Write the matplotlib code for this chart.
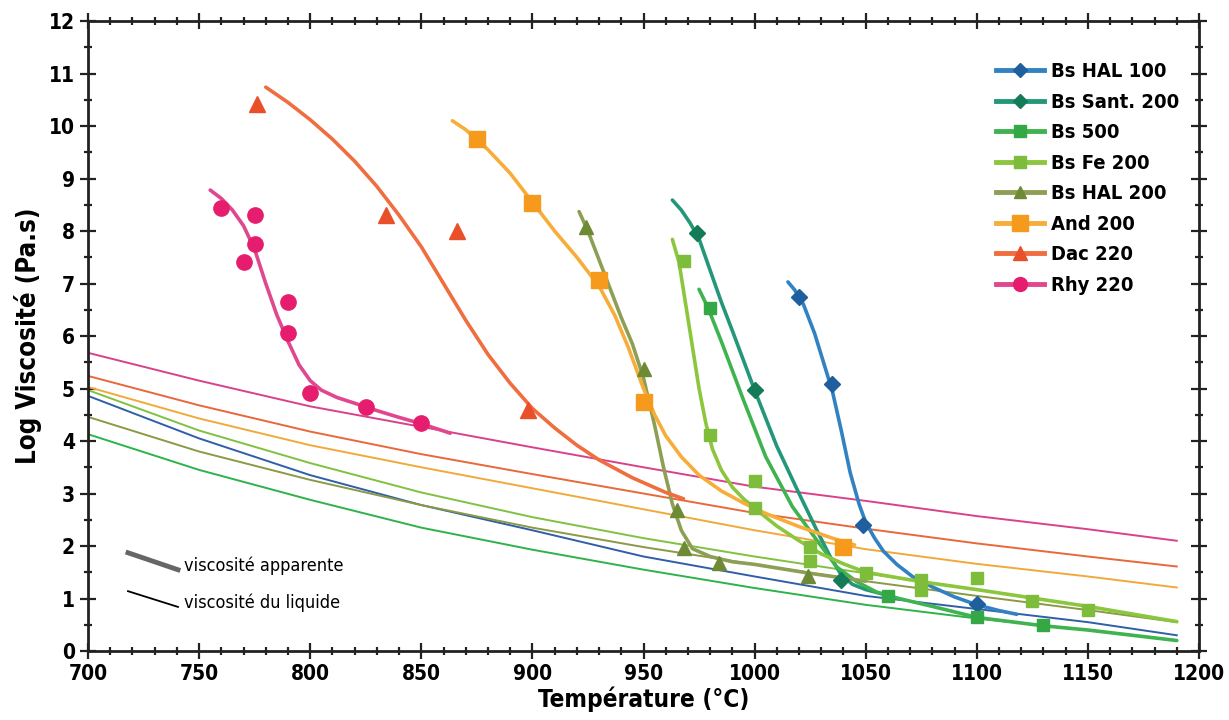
import matplotlib
matplotlib.use('Agg')
import matplotlib.pyplot as plt
from matplotlib.lines import Line2D
from matplotlib.ticker import MultipleLocator

plt.rcParams['font.family'] = ['DejaVu Sans']
plt.rcParams['font.stretch'] = 'condensed'
plt.rcParams['font.weight'] = 'bold'

# viscosite du liquide (thin lines), common temperature grid
liq_t = [700, 750, 800, 850, 900, 950, 1000, 1050, 1100, 1150, 1190]
liq_rhy = [5.68, 5.15, 4.66, 4.27, 3.88, 3.5, 3.13, 2.86, 2.57, 2.32, 2.1]
liq_dac = [5.24, 4.68, 4.18, 3.75, 3.37, 3.0, 2.63, 2.33, 2.05, 1.8, 1.61]
liq_and = [5.03, 4.43, 3.92, 3.5, 3.1, 2.7, 2.3, 1.94, 1.66, 1.42, 1.21]
liq_fe = [4.97, 4.2, 3.58, 3.02, 2.55, 2.15, 1.8, 1.48, 1.17, 0.85, 0.56]
liq_hal100 = [4.86, 4.05, 3.35, 2.78, 2.3, 1.8, 1.42, 1.05, 0.8, 0.55, 0.3]
liq_hal200 = [4.46, 3.8, 3.26, 2.78, 2.35, 1.98, 1.65, 1.33, 1.05, 0.78, 0.55]
liq_b500 = [4.13, 3.45, 2.88, 2.35, 1.93, 1.55, 1.2, 0.88, 0.62, 0.4, 0.2]

# viscosite apparente (thick curves)
hal100_ct = [1015, 1018, 1022, 1027, 1031, 1035, 1039, 1043, 1047, 1050, 1054, 1058,
             1064, 1071, 1080, 1090, 1100, 1110, 1118]
hal100_cv = [7.03, 6.88, 6.6, 6.05, 5.5, 4.95, 4.2, 3.4, 2.8, 2.45, 2.15, 1.9,
             1.65, 1.42, 1.22, 1.03, 0.88, 0.77, 0.7]
sant_ct = [963, 967, 971, 975, 980, 985, 990, 1000, 1010, 1020, 1028, 1034, 1039, 1044, 1050, 1059]
sant_cv = [8.59, 8.4, 8.15, 7.85, 7.25, 6.65, 6.1, 4.97, 3.9, 3.0, 2.3, 1.8, 1.45, 1.27, 1.17, 1.07]
b500_ct = [975, 979, 985, 995, 1005, 1017, 1028, 1037, 1046, 1055, 1065, 1080, 1100, 1130, 1150, 1190]
b500_cv = [6.89, 6.54, 5.9, 4.78, 3.7, 2.75, 2.11, 1.6, 1.32, 1.12, 1.0, 0.85, 0.64, 0.48, 0.4, 0.2]
fe_ct = [963, 966, 969, 972, 975, 978, 981, 985, 990, 995, 1000, 1010, 1020, 1030, 1040,
         1050, 1075, 1100, 1150, 1190]
fe_cv = [7.84, 7.4, 6.6, 5.8, 5.0, 4.35, 3.85, 3.45, 3.12, 2.9, 2.72, 2.38, 2.1, 1.85, 1.66,
         1.5, 1.32, 1.17, 0.85, 0.56]
hal200_ct = [921, 925, 930, 935, 940, 945, 950, 955, 959, 963, 967, 972, 980, 990, 1000, 1025, 1050]
hal200_cv = [8.37, 8.0, 7.45, 6.9, 6.35, 5.85, 5.2, 4.3, 3.5, 2.8, 2.3, 1.95, 1.8, 1.7, 1.65, 1.48, 1.33]
and_ct = [864, 870, 880, 890, 900, 910, 920, 930, 937, 943, 950, 955, 960, 967, 975, 985,
          995, 1005, 1020, 1035, 1045]
and_cv = [10.1, 9.93, 9.55, 9.1, 8.55, 8.0, 7.5, 6.95, 6.4, 5.8, 5.0, 4.5, 4.1, 3.7, 3.35, 3.05,
          2.82, 2.62, 2.37, 2.15, 2.02]
dac_ct = [780, 790, 800, 810, 820, 830, 840, 850, 860, 870, 880, 890, 900, 910, 920, 930,
          945, 960, 968]
dac_cv = [10.74, 10.45, 10.12, 9.75, 9.33, 8.85, 8.3, 7.7, 7.0, 6.3, 5.65, 5.1, 4.62, 4.25,
          3.92, 3.64, 3.3, 3.02, 2.9]
rhy_ct = [755, 760, 765, 770, 775, 780, 785, 790, 795, 800, 805, 812, 820, 830, 840, 850, 863]
rhy_cv = [8.78, 8.62, 8.4, 8.1, 7.65, 7.0, 6.4, 5.9, 5.45, 5.15, 4.97, 4.83, 4.72, 4.58,
          4.45, 4.33, 4.15]

# measured points
hal100_t = [1020, 1035, 1049, 1100]
hal100_v = [6.74, 5.08, 2.4, 0.9]
sant_t = [974, 1000, 1039]
sant_v = [7.97, 4.97, 1.35]
b500_t = [980, 1060, 1100, 1130]
b500_v = [6.54, 1.05, 0.65, 0.5]
fe_t = [968, 980, 1000, 1000, 1025, 1025, 1050, 1075, 1075, 1100, 1125, 1150]
fe_v = [7.42, 4.11, 3.24, 2.72, 1.99, 1.72, 1.48, 1.35, 1.16, 1.4, 0.95, 0.78]
hal200_t = [924, 950, 965, 968, 984, 1024]
hal200_v = [8.08, 5.38, 2.69, 1.96, 1.67, 1.42]
and_t = [875, 900, 930, 950, 1040]
and_v = [9.75, 8.53, 7.07, 4.75, 1.99]
dac_t = [776, 834, 866, 898]
dac_v = [10.42, 8.3, 8.0, 4.59]
rhy_t = [760, 775, 770, 775, 790, 790, 800, 825, 850]
rhy_v = [8.44, 8.3, 7.41, 7.75, 6.65, 6.06, 4.91, 4.65, 4.34]

names = ['Bs HAL 100', 'Bs Sant. 200', 'Bs 500', 'Bs Fe 200', 'Bs HAL 200',
         'And 200', 'Dac 220', 'Rhy 220']
line_colors = ['#3282c2', '#24977a', '#3fb34f', '#8cc63f', '#8d9f55',
               '#f7ad3a', '#ef6d3f', '#e0478f']
mark_colors = ['#1f5f9e', '#157a57', '#33a845', '#7dbd3b', '#6f8a34',
               '#f59a1c', '#e9502a', '#e61d6e']
markers = ['D', 'D', 's', 's', '^', 's', '^', 'o']
msizes = [8, 8, 9, 9, 10, 12, 11, 11]

curves = [(hal100_ct, hal100_cv), (sant_ct, sant_cv), (b500_ct, b500_cv), (fe_ct, fe_cv),
          (hal200_ct, hal200_cv), (and_ct, and_cv), (dac_ct, dac_cv), (rhy_ct, rhy_cv)]
points = [(hal100_t, hal100_v), (sant_t, sant_v), (b500_t, b500_v), (fe_t, fe_v),
          (hal200_t, hal200_v), (and_t, and_v), (dac_t, dac_v), (rhy_t, rhy_v)]
liquids = [(liq_rhy, '#d8428a'), (liq_dac, '#e8683a'), (liq_and, '#f2a93b'),
           (liq_fe, '#7fc241'), (liq_hal100, '#2f5fa8'), (liq_hal200, '#8a9a45'),
           (liq_b500, '#2db34a')]

fig = plt.figure(figsize=(12.29, 7.2), dpi=100)
ax = fig.add_axes([0.0716, 0.0958, 0.904, 0.875])

for vals, c in liquids:
    ax.plot(liq_t, vals, color=c, lw=1.4, zorder=2)

for i in range(len(names)):
    ct, cv = curves[i]
    ax.plot(ct, cv, color=line_colors[i], lw=2.6, solid_capstyle='round',
            solid_joinstyle='round', zorder=3)
    pt, pv = points[i]
    ax.plot(pt, pv, ls='none', marker=markers[i], ms=msizes[i], color=mark_colors[i],
            mec=mark_colors[i], zorder=4)

handles = [Line2D([], [], color=line_colors[i], lw=3.5, marker=markers[i],
                  ms=msizes[i] - 1, mfc=mark_colors[i], mec=mark_colors[i])
           for i in range(len(names))]
leg = ax.legend(handles, names, loc='upper left', bbox_to_anchor=(0.81, 0.947),
                frameon=False, fontsize=14.5, handlelength=2.4, labelspacing=0.57,
                handletextpad=0.35, borderaxespad=0)

# key for line thickness
ax.plot([0.036, 0.081], [0.156, 0.129], transform=ax.transAxes, color='#666666', lw=3.5)
ax.plot([0.036, 0.081], [0.095, 0.07], transform=ax.transAxes, color='black', lw=1.3)
ax.text(0.086, 0.135, 'viscosité apparente', transform=ax.transAxes, fontsize=13,
        fontweight='normal', va='center')
ax.text(0.086, 0.076, 'viscosité du liquide', transform=ax.transAxes, fontsize=13,
        fontweight='normal', va='center')

ax.set_xlim(700, 1200)
ax.set_ylim(0, 12)
ax.xaxis.set_major_locator(MultipleLocator(50))
ax.xaxis.set_minor_locator(MultipleLocator(10))
ax.yaxis.set_major_locator(MultipleLocator(1))
ax.yaxis.set_minor_locator(MultipleLocator(0.5))
ax.tick_params(which='both', direction='inout', top=True, right=True, width=1.6,
               labelsize=15, color='#222222')
ax.tick_params(which='major', length=12)
ax.tick_params(which='minor', length=6)
for s in ax.spines.values():
    s.set_linewidth(2)
    s.set_color('#222222')

ax.set_xlabel('Température (°C)', fontsize=17.5, fontweight='bold', labelpad=2)
ax.set_ylabel('Log Viscosité (Pa.s)', fontsize=18.5, fontweight='bold', labelpad=5)

plt.savefig('out.png', dpi=100)
